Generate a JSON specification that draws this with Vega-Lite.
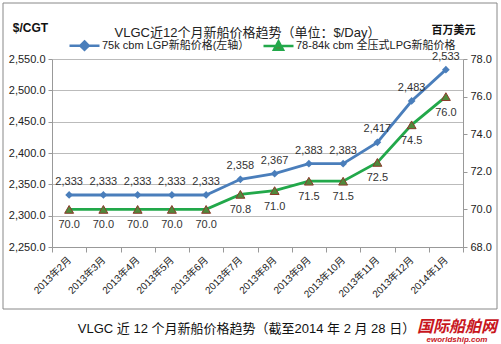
{
  "$schema": "https://vega.github.io/schema/vega-lite/v6.json",
  "width": 411,
  "height": 188,
  "autosize": {"type": "none"},
  "padding": {"left": 52, "top": 59, "right": 38, "bottom": 97},
  "background": "white",
  "config": {"font": "Liberation Sans, Noto Sans CJK SC", "view": {"stroke": null}},
  "title": {"text": "VLGC近12个月新船价格趋势（单位：$/Day）", "fontSize": 13, "fontWeight": "normal", "color": "#222", "anchor": "middle", "dx": -10, "offset": -37},
  "data": {"values": [
    {"month": "2013年2月", "lgp": 2333, "lpg": 70.0},
    {"month": "2013年3月", "lgp": 2333, "lpg": 70.0},
    {"month": "2013年4月", "lgp": 2333, "lpg": 70.0},
    {"month": "2013年5月", "lgp": 2333, "lpg": 70.0},
    {"month": "2013年6月", "lgp": 2333, "lpg": 70.0},
    {"month": "2013年7月", "lgp": 2358, "lpg": 70.8},
    {"month": "2013年8月", "lgp": 2367, "lpg": 71.0},
    {"month": "2013年9月", "lgp": 2383, "lpg": 71.5},
    {"month": "2013年10月", "lgp": 2383, "lpg": 71.5},
    {"month": "2013年11月", "lgp": 2417, "lpg": 72.5},
    {"month": "2013年12月", "lgp": 2483, "lpg": 74.5},
    {"month": "2014年1月", "lgp": 2533, "lpg": 76.0}
  ]},
  "encoding": {
    "x": {"field": "month", "type": "ordinal", "sort": null,
      "scale": {"type": "band", "paddingInner": 0, "paddingOuter": 0},
      "axis": {"title": "VLGC 近 12 个月新船价格趋势（截至2014 年 2 月 28 日）", "titleFontSize": 13, "titleFontWeight": "normal", "titleColor": "#111", "titleX": 194, "titleY": 81, "titleAlign": "center", "titleBaseline": "middle",
        "labelAngle": -45, "labelAlign": "right", "labelBaseline": "middle", "labelFontSize": 10, "labelColor": "#222", "labelPadding": 6,
        "tickBand": "extent", "tickSize": 5, "tickColor": "#999", "domainColor": "#999", "grid": false}}
  },
  "layer": [
    {
      "encoding": {
        "y": {"field": "lgp", "type": "quantitative", "scale": {"domain": [2250, 2550], "zero": false, "nice": false},
          "axis": {"values": [2250, 2300, 2350, 2400, 2450, 2500, 2550], "format": ",.1f", "title": "$/CGT", "titleAngle": 0, "titleX": -22, "titleY": -32, "titleAlign": "center", "titleBaseline": "middle", "titleFontSize": 12, "titleFontWeight": "bold", "titleColor": "#111",
            "labelFontSize": 11, "labelColor": "#222", "labelPadding": 3, "grid": true, "gridColor": "#bbb", "domainColor": "#999", "tickColor": "#999", "tickSize": 4}}
      },
      "layer": [
        {"mark": {"type": "line", "strokeWidth": 2.8},
         "encoding": {"color": {"datum": "75k cbm LGP新船价格(左轴）", "type": "nominal",
           "scale": {"domain": ["75k cbm LGP新船价格(左轴）", "78-84k cbm 全压式LPG新船价格"], "range": ["#4a7ebb", "#22a84a"]},
           "legend": {"orient": "none", "legendX": 16, "legendY": -30, "direction": "horizontal", "title": null, "symbolSize": 900, "labelFontSize": 11, "labelColor": "#222", "labelLimit": 400, "columnPadding": 8, "labelOffset": 1, "symbolStrokeWidth": 2.5,
             "encode": {"symbols": {"update": {
               "shape": {"signal": "datum.value === '75k cbm LGP新船价格(左轴）' ? 'M-1,0H1M0,-0.28L0.28,0L0,0.28L-0.28,0Z' : 'M-1,0H1M0,-0.3L0.3,0.25L-0.3,0.25Z'"},
               "fill": {"signal": "datum.value === '75k cbm LGP新船价格(左轴）' ? '#4a7ebb' : '#4f8a3c'"},
               "stroke": {"signal": "datum.value === '75k cbm LGP新船价格(左轴）' ? '#4a7ebb' : '#22a84a'"},
               "strokeWidth": {"value": 2.5}}}}}}}},
        {"mark": {"type": "point", "shape": "diamond", "filled": true, "size": 60, "color": "#4a7ebb", "opacity": 1}},
        {"mark": {"type": "text", "dy": -13, "fontSize": 11, "color": "#333"},
         "encoding": {"text": {"field": "lgp", "type": "quantitative", "format": ",.0f"}}}
      ]
    },
    {
      "encoding": {
        "y": {"field": "lpg", "type": "quantitative", "scale": {"domain": [68, 78], "zero": false, "nice": false},
          "axis": {"orient": "right", "values": [68, 70, 72, 74, 76, 78], "format": ".1f", "title": "百万美元", "titleAngle": 0, "titleX": -10, "titleY": -29, "titleAlign": "center", "titleBaseline": "middle", "titleFontSize": 11, "titleFontWeight": "bold", "titleColor": "#111",
            "labelFontSize": 11, "labelColor": "#222", "labelPadding": 3, "grid": false, "domainColor": "#999", "tickColor": "#999", "tickSize": 4}}
      },
      "layer": [
        {"mark": {"type": "line", "strokeWidth": 2.8},
         "encoding": {"color": {"datum": "78-84k cbm 全压式LPG新船价格", "type": "nominal"}}},
        {"mark": {"type": "point", "shape": "triangle-up", "filled": true, "size": 80, "fill": "#4f8a3c", "stroke": "#8b3a2a", "strokeWidth": 1, "opacity": 1}},
        {"mark": {"type": "text", "dy": 16, "fontSize": 11, "color": "#333"},
         "encoding": {"text": {"field": "lpg", "type": "quantitative", "format": ".1f"}}}
      ]
    },
    {
      "data": {"values": [{}]},
      "mark": {"type": "rect", "fill": null, "stroke": "#888", "strokeWidth": 1},
      "encoding": {"x": {"value": -49}, "x2": {"value": 445}, "y": {"value": -56}, "y2": {"value": 250}}
    },
    {
      "data": {"values": [{}]},
      "mark": {"type": "text", "text": "国际船舶网", "fontSize": 16, "fontWeight": "bold", "fontStyle": "italic", "color": "#c8161d", "align": "center", "baseline": "middle"},
      "encoding": {"x": {"value": 405}, "y": {"value": 268}}
    },
    {
      "data": {"values": [{}]},
      "mark": {"type": "text", "text": "eworldship.com", "fontSize": 8, "fontWeight": "bold", "fontStyle": "italic", "color": "#c8161d", "align": "center", "baseline": "middle"},
      "encoding": {"x": {"value": 405}, "y": {"value": 281}}
    }
  ],
  "resolve": {"scale": {"y": "independent"}}
}
